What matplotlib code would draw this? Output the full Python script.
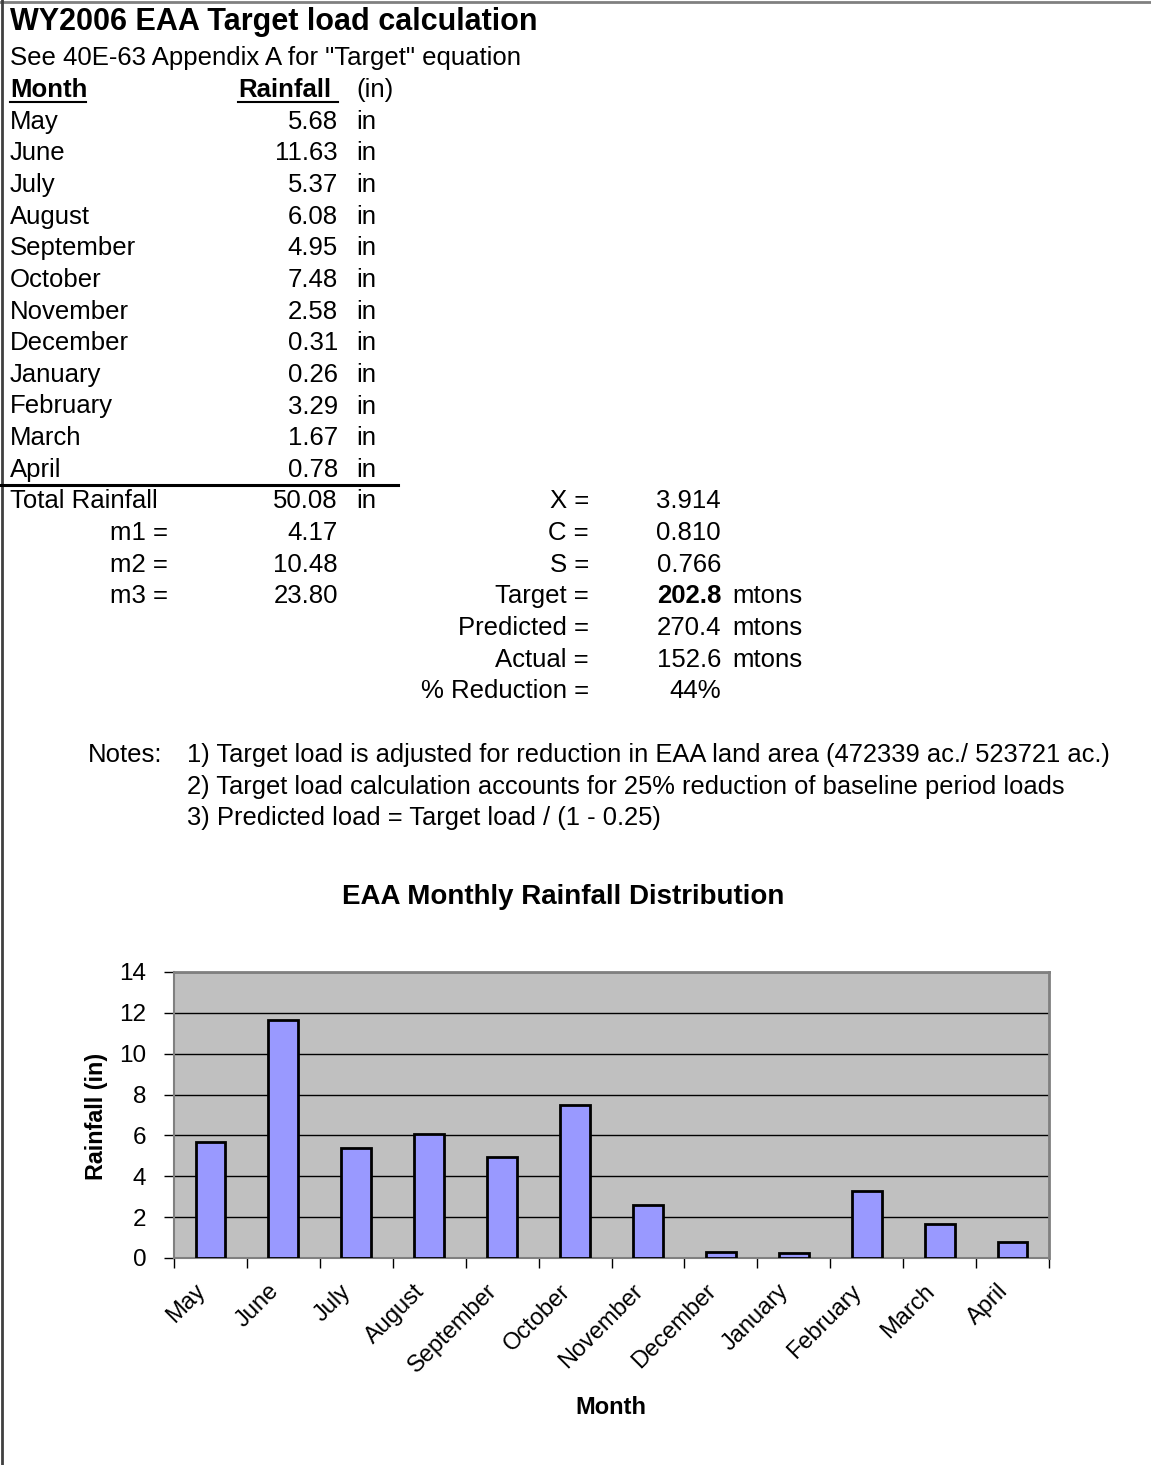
import numpy as np
import matplotlib.pyplot as plt
import matplotlib.transforms as mtransforms
from matplotlib.lines import Line2D

plt.rcParams['font.family'] = ['Liberation Sans', 'DejaVu Sans']

W, H = 1151, 1465

months = ['May', 'June', 'July', 'August', 'September', 'October',
          'November', 'December', 'January', 'February', 'March', 'April']
rainfall = [5.68, 11.63, 5.37, 6.08, 4.95, 7.48, 2.58, 0.31, 0.26, 3.29, 1.67, 0.78]
rain_text = ['5.68', '11.63', '5.37', '6.08', '4.95', '7.48',
             '2.58', '0.31', '0.26', '3.29', '1.67', '0.78']
total_text = '50.08'
m_labels = ['m1 =', 'm2 =', 'm3 =']
m_values = ['4.17', '10.48', '23.80']
res_labels = ['X =', 'C =', 'S =', 'Target =', 'Predicted =', 'Actual =', '% Reduction =']
res_values = ['3.914', '0.810', '0.766', '202.8', '270.4', '152.6', '44%']
res_units = ['', '', '', 'mtons', 'mtons', 'mtons', '']
notes = ['1) Target load is adjusted for reduction in EAA land area (472339 ac./ 523721 ac.)',
         '2) Target load calculation accounts for 25% reduction of baseline period loads',
         '3) Predicted load = Target load / (1 - 0.25)']

fig = plt.figure(figsize=(W / 100, H / 100), dpi=100)

FS = 18.5

# helper: place text with pixel coords (top-left origin)
def txt(x, y, s, ha='left', **kw):
    kw.setdefault('fontsize', FS)
    return fig.text(x / W, 1 - y / H, s, ha=ha, va='center', **kw)

# border of the sheet
fig.add_artist(Line2D([0, 1], [1 - 1.5 / H, 1 - 1.5 / H], color='#808080', lw=2))
fig.add_artist(Line2D([1.5 / W, 1.5 / W], [0, 1], color='#404040', lw=2))

txt(10, 22, 'WY2006 EAA Target load calculation', fontsize=22, fontweight='bold')
txt(10, 58, 'See 40E-63 Appendix A for "Target" equation')

row = 31.65
y0 = 90
txt(10, y0, 'Month', fontweight='bold')
txt(238, y0, 'Rainfall', fontweight='bold')
fig.add_artist(Line2D([10 / W, 86 / W], [1 - (y0 + 12) / H] * 2, color='black', lw=1.5))
fig.add_artist(Line2D([238 / W, 338 / W], [1 - (y0 + 12) / H] * 2, color='black', lw=1.5))
txt(356, y0, '(in)')

for i, (m, v) in enumerate(zip(months, rain_text)):
    y = y0 + row * (i + 1)
    txt(10, y, m)
    txt(338, y, v, ha='right')
    txt(356, y, 'in')

# thick line under April
yl = y0 + row * 12.5 - 1
fig.add_artist(Line2D([0, 398 / W], [1 - yl / H] * 2, color='black', lw=2.2))

yt = y0 + row * 13
txt(10, yt, 'Total Rainfall')
txt(338, yt, total_text, ha='right')
txt(356, yt, 'in')
for i, (l, v) in enumerate(zip(m_labels, m_values)):
    y = yt + row * (i + 1)
    txt(168, y, l, ha='right')
    txt(338, y, v, ha='right')

for i, (l, v, u) in enumerate(zip(res_labels, res_values, res_units)):
    y = yt + row * i
    txt(589, y, l, ha='right')
    txt(721, y, v, ha='right', fontweight='bold' if l == 'Target =' else 'normal')
    if u:
        txt(732, y, u)

txt(88, 755, 'Notes:')
for i, n in enumerate(notes):
    txt(187, 755 + row * i, n, fontsize=18.4)

# chart
txt(563, 897, 'EAA Monthly Rainfall Distribution', ha='center', fontsize=20, fontweight='bold')

ax = fig.add_axes([174 / W, 1 - 1258 / H, 875 / W, 286 / H])
x = np.arange(len(months))
ax.set_facecolor('#C0C0C0')
ax.bar(x, rainfall, width=0.41, color='#9999FF', edgecolor='black', linewidth=2, zorder=3)
ax.set_xlim(-0.5, len(months) - 0.5)
ax.set_ylim(0, 14)
ax.set_yticks(np.arange(0, 15, 2))
ax.yaxis.grid(True, color='black', lw=1)
ax.set_axisbelow(True)
ax.set_xticks(np.append(x - 0.5, len(months) - 0.5))
ax.set_xticklabels([])
ax.set_xticks(x, minor=True)
ax.set_xticklabels(months, minor=True, rotation=45, ha='right', rotation_mode='anchor', fontsize=17)
ax.tick_params(axis='x', which='minor', length=0, pad=16)
ax.tick_params(axis='x', which='major', length=7, width=1, direction='out')
ax.tick_params(axis='y', length=7, width=1, labelsize=17.5, pad=13)
shift = mtransforms.ScaledTranslation(-16 / 100, 0, fig.dpi_scale_trans)
for lab in ax.get_xticklabels(minor=True):
    lab.set_transform(lab.get_transform() + shift)
for s in ['top', 'right']:
    ax.spines[s].set_color('#808080')
    ax.spines[s].set_linewidth(2)
ax.spines['left'].set_color('#808080')
ax.spines['left'].set_linewidth(1.5)
ax.spines['bottom'].set_color('#808080')
ax.spines['bottom'].set_linewidth(1.5)

txt(97, 1116, 'Rainfall (in)', ha='center', fontsize=16.8, fontweight='bold', rotation=90)
txt(611, 1407, 'Month', ha='center', fontsize=17, fontweight='bold')

fig.savefig('out.png', dpi=100)
